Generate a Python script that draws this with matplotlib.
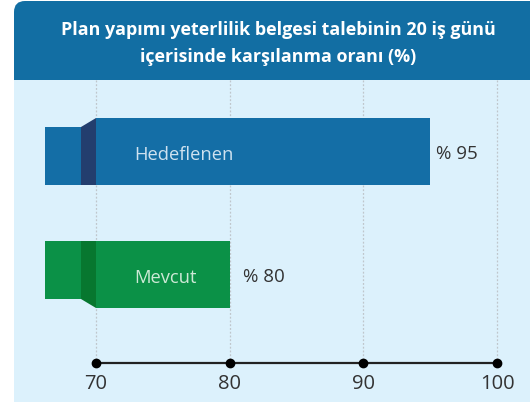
import matplotlib
matplotlib.use("Agg")
import matplotlib.pyplot as plt
from matplotlib.patches import FancyBboxPatch, Rectangle, Polygon

# Data
categories = ["Hedeflenen", "Mevcut"]
values = [95, 80]
value_labels = ["% 95", "% 80"]
ticks = [70, 80, 90, 100]
title_lines = ["Plan yapımı yeterlilik belgesi talebinin 20 iş günü",
               "içerisinde karşılanma oranı (%)"]

# Styling
HEADER = "#126ea3"
PANEL = "#dcf1fc"
main_colors = ["#146ea6", "#0b9147"]
fold_colors = ["#233e6e", "#07772f"]
inner_text = ["#cfe2f0", "#cde9d6"]
TEXT = "#333333"
FONT = "Open Sans"

W, H = 530, 406
fig = plt.figure(figsize=(W / 100, H / 100), dpi=100)
fig.patch.set_facecolor("white")

# Pixel-space layer for the card background
bg = fig.add_axes([0, 0, 1, 1])
bg.set_xlim(0, W)
bg.set_ylim(H, 0)
bg.axis("off")
bg.add_patch(FancyBboxPatch((14, 2), W + 20, 110, boxstyle="round,pad=0,rounding_size=11",
                            fc=HEADER, ec="none", zorder=1))
bg.add_patch(Rectangle((14, 81), W, H - 84, fc=PANEL, ec="none", zorder=2))
bg.text(278.5, 30, title_lines[0], color="white", fontsize=12.85, fontweight="bold",
        family=FONT, ha="center", va="center", zorder=3)
bg.text(278.5, 57, title_lines[1], color="white", fontsize=12.85, fontweight="bold",
        family=FONT, ha="center", va="center", zorder=3)

# Data layer: x in percent, y in pixel rows
ax = fig.add_axes([0, 0, 1, 1])
ax.patch.set_alpha(0)
px = (497 - 96) / (ticks[-1] - ticks[0])
ax.set_xlim(ticks[0] - 96 / px, ticks[0] + (W - 96) / px)
ax.set_ylim(H, 0)
ax.axis("off")

axis_y = 364
for t in ticks:
    ax.plot([t, t], [81, axis_y], color="#bfc6cc", lw=0.9, ls=(0, (1.5, 1.5)), zorder=1)
ax.plot([ticks[0], ticks[-1]], [axis_y, axis_y], color="#222222", lw=1.6, zorder=3)
ax.plot(ticks, [axis_y] * len(ticks), "o", color="black", ms=6, zorder=4)
for t in ticks:
    ax.text(t, 384.5, str(t), ha="center", va="center", fontsize=14.5, color=TEXT, family=FONT)

centers = [152.5, 275.5]
bar_h = 67
stub_h = 58
stub_w = (81 - 45) / px
fold_w = (96 - 81) / px
label_gap = [6, 13]
base = ticks[0]
for i, (cat, v) in enumerate(zip(categories, values)):
    c = centers[i]
    top, bot = c - bar_h / 2, c + bar_h / 2
    ax.barh(c, v - base, left=base, height=bar_h, color=main_colors[i], zorder=2)
    # folded ribbon end to the left of the axis start
    x0 = base - fold_w - stub_w
    x1 = base - fold_w
    if i == 0:
        s_top, s_bot = bot - stub_h, bot
        ax.add_patch(Rectangle((x0, s_top), stub_w, stub_h, fc=main_colors[i], ec="none", zorder=2))
        ax.add_patch(Polygon([(x1, s_top), (base, top), (base, bot), (x1, bot)],
                             closed=True, fc=fold_colors[i], ec="none", zorder=2))
    else:
        s_top, s_bot = top, top + stub_h
        ax.add_patch(Rectangle((x0, s_top), stub_w, stub_h, fc=main_colors[i], ec="none", zorder=2))
        ax.add_patch(Polygon([(x1, top), (base, top), (base, bot), (x1, s_bot)],
                             closed=True, fc=fold_colors[i], ec="none", zorder=2))
    ax.text(base + 38 / px, c + 3, cat, ha="left", va="center", fontsize=13.2,
            color=inner_text[i], family=FONT, zorder=5)
    ax.text(v + label_gap[i] / px, c + 1.5, value_labels[i], ha="left", va="center",
            fontsize=13.5, color=TEXT, family=FONT, zorder=5)

fig.savefig("out.png", dpi=100)
